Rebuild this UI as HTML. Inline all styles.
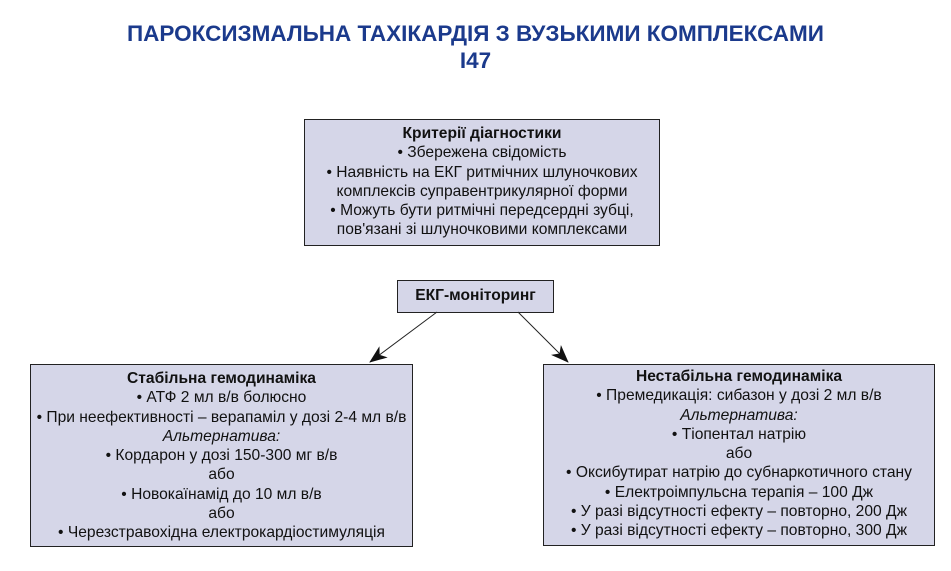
<!DOCTYPE html>
<html><head><meta charset="utf-8"><style>
body{margin:0;width:951px;height:571px;background:#fff;position:relative;font-family:"Liberation Sans",Arial,sans-serif;overflow:hidden}
.t{position:absolute;left:0;width:951px;text-align:center;color:#1b3a8c;font-weight:bold;font-size:22.5px}
.b{position:absolute;box-sizing:border-box;background:#d5d6e8;border:1.5px solid #222;text-align:center;font-size:15.6px;line-height:19.3px;color:#111;white-space:nowrap}
b{font-weight:bold}
</style></head><body>
<div class="t" style="top:21px">ПАРОКСИЗМАЛЬНА ТАХІКАРДІЯ З ВУЗЬКИМИ КОМПЛЕКСАМИ</div>
<div class="t" style="top:48px">I47</div>
<div class="b" style="left:304px;top:119px;width:356px;height:127px;padding-top:4px"><b>Критерії діагностики</b><br>• Збережена свідомість<br>• Наявність на ЕКГ ритмічних шлуночкових<br>комплексів суправентрикулярної форми<br>• Можуть бути ритмічні передсердні зубці,<br>пов'язані зі шлуночковими комплексами</div>
<div class="b" style="left:397px;top:280px;width:157px;height:33px;line-height:30px;font-weight:bold">ЕКГ-моніторинг</div>
<div class="b" style="left:30px;top:364px;width:383px;height:183px;padding-top:4px"><b>Стабільна гемодинаміка</b><br>• АТФ 2 мл в/в болюсно<br>• При неефективності – верапаміл у дозі 2-4 мл в/в<br><i>Альтернатива:</i><br>• Кордарон у дозі 150-300 мг в/в<br>або<br>• Новокаїнамід до 10 мл в/в<br>або<br>• Черезстравохідна електрокардіостимуляція</div>
<div class="b" style="left:543px;top:364px;width:392px;height:182px;padding-top:2px"><b>Нестабільна гемодинаміка</b><br>• Премедикація: сибазон у дозі 2 мл в/в<br><i>Альтернатива:</i><br>• Тіопентал натрію<br>або<br>• Оксибутират натрію до субнаркотичного стану<br>• Електроімпульсна терапія – 100 Дж<br>• У разі відсутності ефекту – повторно, 200 Дж<br>• У разі відсутності ефекту – повторно, 300 Дж</div>
<svg style="position:absolute;left:0;top:0" width="951" height="571">
<defs><marker id="a" markerWidth="18" markerHeight="14" refX="17" refY="7" orient="auto" markerUnits="userSpaceOnUse" viewBox="0 0 18 14"><path d="M0,0 L18,7 L0,14 L5,7z" fill="#111"/></marker></defs>
<line x1="437" y1="312" x2="370" y2="362" stroke="#222" stroke-width="1" marker-end="url(#a)"/>
<line x1="518" y1="312" x2="568" y2="362" stroke="#222" stroke-width="1" marker-end="url(#a)"/>
</svg>
</body></html>
